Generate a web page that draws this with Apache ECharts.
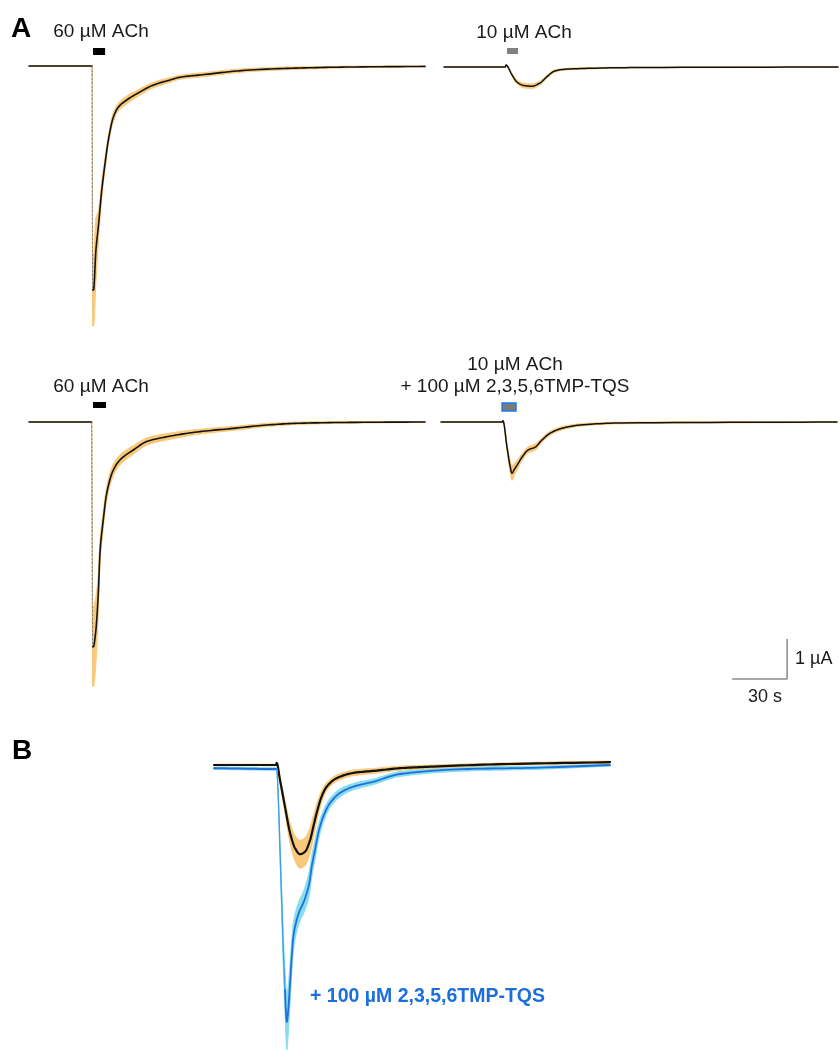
<!DOCTYPE html>
<html><head><meta charset="utf-8">
<script src="https://cdn.jsdelivr.net/npm/echarts@6/dist/echarts.min.js"></script>
<style>html,body{margin:0;padding:0;background:#fff}#c{width:839px;height:1051px}</style>
</head><body><div id="c"></div>
<script>
// ---- Panel A1: 60 µM ACh (top-left) : time (s), mean current (µA), SEM (µA)
const tA1 = [0, 34.4, 34.7, 35.2, 36.5, 37.8, 39.7, 41.5, 43.3, 46.0, 48.7, 53.3, 60.5, 67.6, 76.9, 82.4, 93.3, 120.5, 147.8, 175.1, 216];
const mA1 = [0, 0, -5.6, -5.6, -4.6, -4.03, -3.1, -2.43, -1.85, -1.28, -1.03, -0.85, -0.65, -0.48, -0.35, -0.28, -0.225, -0.10, -0.05, -0.025, -0.01];
const sA1 = [0.01, 0.01, 0.9, 0.9, 0.8, 0.4, 0.22, 0.15, 0.12, 0.11, 0.1, 0.1, 0.08, 0.07, 0.06, 0.05, 0.05, 0.04, 0.03, 0.02, 0.01];
// ---- Panel A2: 10 µM ACh (top-right)
const tA2 = [0, 33.5, 33.8, 36.9, 39.7, 43.3, 47.8, 52.4, 56.0, 60.5, 65.1, 74.2, 101.5, 215];
const mA2 = [0, 0, 0.05, -0.18, -0.37, -0.46, -0.48, -0.40, -0.25, -0.10, -0.06, -0.04, -0.015, 0];
const sA2 = [0.01, 0.01, 0.01, 0.03, 0.05, 0.06, 0.06, 0.05, 0.04, 0.03, 0.02, 0.02, 0.01, 0.01];
// ---- Panel A3: 60 µM ACh (bottom-left)
const tA3 = [0, 34.2, 34.7, 35.1, 36.4, 37.8, 38.7, 40.5, 42.4, 46.0, 49.6, 56.9, 64.2, 75.1, 93.3, 111.4, 129.7, 147.8, 175.1, 216];
const mA3 = [0, 0, -5.62, -5.62, -5.24, -4.28, -3.28, -2.45, -1.78, -1.2, -0.95, -0.7, -0.49, -0.37, -0.24, -0.16, -0.075, -0.03, -0.01, 0];
const sA3 = [0.01, 0.01, 1.0, 1.0, 0.85, 0.5, 0.3, 0.22, 0.17, 0.15, 0.13, 0.11, 0.09, 0.08, 0.06, 0.05, 0.04, 0.03, 0.02, 0.01];
// ---- Panel A4: 10 µM ACh + 100 µM 2,3,5,6TMP-TQS (bottom-right)
const tA4 = [0, 33.3, 33.8, 36.0, 37.6, 38.7, 39.8, 41.5, 44.2, 47.5, 51.3, 55.1, 59.5, 66.6, 75.8, 97.7, 216];
const mA4 = [0, 0, 0.03, -0.63, -1.08, -1.28, -1.2, -1.08, -0.88, -0.70, -0.63, -0.45, -0.28, -0.15, -0.075, -0.025, 0];
const sA4 = [0.01, 0.01, 0.01, 0.1, 0.15, 0.18, 0.16, 0.12, 0.09, 0.08, 0.08, 0.06, 0.05, 0.04, 0.03, 0.02, 0.01];
// ---- Panel B: ACh alone (black) vs + TMP-TQS (blue), overlaid
const tBk = [0, 33.8, 34.2, 36.0, 38.7, 41.5, 44.2, 46.9, 49.6, 52.4, 54.2, 56.0, 58.7, 61.5, 66.9, 75.8, 88.7, 101.5, 119.5, 156, 216];
const mBk = [0, 0, 0.05, -0.375, -1.04, -1.7, -2.08, -2.23, -2.17, -1.88, -1.54, -1.2, -0.79, -0.54, -0.33, -0.2, -0.14, -0.08, -0.04, 0.02, 0.07];
const sBk = [0.02, 0.02, 0.02, 0.08, 0.15, 0.25, 0.32, 0.35, 0.35, 0.32, 0.28, 0.22, 0.15, 0.1, 0.08, 0.07, 0.06, 0.05, 0.04, 0.03, 0.03];
const tBl = [0, 33.8, 34.2, 35.1, 36.0, 36.9, 37.8, 38.7, 39.7, 40.5, 41.5, 42.4, 43.3, 45.1, 46.9, 48.7, 50.6, 52.0, 53.3, 55.1, 56.9, 59.6, 63.3, 68.7, 76.0, 86.9, 101.5, 138, 174, 216];
const mBl = [-0.08, -0.1, -0.1, -0.875, -2.125, -3.375, -4.625, -5.625, -6.42, -6.125, -5.45, -4.79, -4.29, -3.875, -3.625, -3.45, -3.2, -2.95, -2.54, -2.125, -1.7, -1.29, -0.95, -0.7, -0.54, -0.42, -0.225, -0.1, -0.07, 0];
const sBl = [0.03, 0.03, 0.03, 0.1, 0.2, 0.3, 0.4, 0.5, 0.7, 0.6, 0.5, 0.4, 0.35, 0.3, 0.28, 0.28, 0.3, 0.3, 0.28, 0.25, 0.2, 0.15, 0.12, 0.1, 0.08, 0.07, 0.06, 0.05, 0.04, 0.03];
// ---- Drug application bars: [start s, end s]
const stimA1 = [34.9, 41.5];
const stimA2 = [34.4, 40.4];
const stimA3 = [34.9, 42.0];
const stimA4 = [33.3, 40.9];
// ---- Labels
const labA1 = '60 µM ACh';
const labA2 = '10 µM ACh';
const labA3 = '60 µM ACh';
const labA4 = ['10 µM ACh', '+ 100 µM 2,3,5,6TMP-TQS'];
const labB = '+ 100 µM 2,3,5,6TMP-TQS';
// ---- Scale bar
const scaleSec = 30;
const scaleMicroA = 1;
const scaleLab = ['30 s', '1 µA'];

const ORANGE = '#F9C97A', CYAN = '#86DDEB', BLUE = '#1F6FE0', BLACK = '#111';
const FONT = '"Liberation Sans", Arial, sans-serif';

const grids = [
  {left: 29, top: 46, width: 396, height: 300},
  {left: 444, top: 47, width: 394, height: 300},
  {left: 29, top: 402, width: 396, height: 300},
  {left: 441, top: 402, width: 396, height: 300},
  {left: 214, top: 745, width: 396, height: 300}
];
const xMax = [216, 215, 216, 216, 216];

// monotone cubic (Fritsch-Carlson) rendering of pixel points; returns samples per segment
function monoSegments(P, n) {
  const N = P.length, d = [], h = [], m = new Array(N).fill(0);
  for (let i = 0; i < N - 1; i++) {
    h.push(Math.max(P[i + 1][0] - P[i][0], 1e-6));
    d.push((P[i + 1][1] - P[i][1]) / h[i]);
  }
  m[0] = d[0]; m[N - 1] = d[N - 2];
  for (let i = 1; i < N - 1; i++) {
    if (d[i - 1] * d[i] <= 0) m[i] = 0;
    else {
      const w1 = 2 * h[i] + h[i - 1], w2 = h[i] + 2 * h[i - 1];
      m[i] = (w1 + w2) / (w1 / d[i - 1] + w2 / d[i]);
    }
  }
  const segs = [];
  for (let i = 0; i < N - 1; i++) {
    const s = [];
    for (let k = 0; k <= n; k++) {
      const u = k / n, u2 = u * u, u3 = u2 * u;
      const h00 = 2 * u3 - 3 * u2 + 1, h10 = u3 - 2 * u2 + u, h01 = -2 * u3 + 3 * u2, h11 = u3 - u2;
      const x = P[i][0] + u * h[i];
      const y = h00 * P[i][1] + h10 * h[i] * m[i] + h01 * P[i + 1][1] + h11 * h[i] * m[i + 1];
      s.push([x, y]);
    }
    segs.push(s);
  }
  return segs;
}
function flat(segs, a, b) {
  const out = [];
  for (let i = a; i < b; i++) { const s = segs[i]; for (let k = (i === a ? 0 : 1); k < s.length; k++) out.push(s[k]); }
  return out;
}
function band(g, t, m, s, color, z) {
  return {type: 'custom', xAxisIndex: g, yAxisIndex: g, data: [[t[0], m[0]]], silent: true, clip: false, z: z || 2,
    renderItem: function (params, api) {
      const up = [], dn = [];
      for (let i = 0; i < t.length; i++) {
        up.push(api.coord([t[i], m[i] + s[i]]));
        dn.push(api.coord([t[i], m[i] - s[i]]));
      }
      const U = flat(monoSegments(up, 12), 0, t.length - 1);
      const D = flat(monoSegments(dn, 12), 0, t.length - 1).reverse();
      return {type: 'polygon', shape: {points: U.concat(D)}, style: {fill: color, stroke: color, lineWidth: 1}};
    }};
}
// pieces: [fromIndex, toIndex, color, width, dash]
function trace(g, t, m, pieces, z) {
  return {type: 'custom', xAxisIndex: g, yAxisIndex: g, data: [[t[0], m[0]]], silent: true, clip: false, z: z || 3,
    renderItem: function (params, api) {
      const P = t.map((x, i) => api.coord([x, m[i]]));
      const segs = monoSegments(P, 12);
      return {type: 'group', children: pieces.map(pc => ({type: 'polyline',
        shape: {points: pc[4] ? [P[pc[0]], P[pc[1]]] : flat(segs, pc[0], pc[1])},
        style: {fill: null, stroke: pc[2], lineWidth: pc[3], lineDash: pc[4] || null, lineJoin: 'round', lineCap: 'round'}}))};
    }};
}
function stim(g, st, y0, y1, fill, stroke) {
  return {type: 'line', xAxisIndex: g, yAxisIndex: g, data: [], silent: true,
    markArea: {silent: true, itemStyle: {color: fill, borderColor: stroke || fill, borderWidth: stroke ? 1.5 : 0},
      data: [[{xAxis: st[0], yAxis: y1}, {xAxis: st[1], yAxis: y0}]]}};
}

const series = [];
// A1
series.push(band(0, tA1, mA1, sA1, ORANGE));
series.push(trace(0, tA1, mA1, [[0, 1, BLACK, 1.5], [1, 2, '#808080', 1, [2, 2]], [2, tA1.length - 1, BLACK, 1.6]]));
series.push(stim(0, stimA1, 0.275, 0.45, '#000'));
// A2
series.push(band(1, tA2, mA2, sA2, ORANGE));
series.push(trace(1, tA2, mA2, [[0, tA2.length - 1, BLACK, 1.5]]));
series.push(stim(1, stimA2, 0.325, 0.475, '#808080'));
// A3
series.push(band(2, tA3, mA3, sA3, ORANGE));
series.push(trace(2, tA3, mA3, [[0, 1, BLACK, 1.5], [1, 2, '#808080', 1, [2, 2]], [2, tA3.length - 1, BLACK, 1.6]]));
series.push(stim(2, stimA3, 0.35, 0.5, '#000'));
// A4
series.push(band(3, tA4, mA4, sA4, ORANGE));
series.push(trace(3, tA4, mA4, [[0, tA4.length - 1, BLACK, 1.5]]));
series.push(stim(3, stimA4, 0.275, 0.475, '#7a7a7a', '#1E7BEA'));
// scale bar (in A4 data units)
const sbCorner = [188.8, -6.425];
series.push({type: 'line', xAxisIndex: 3, yAxisIndex: 3, silent: true, symbol: 'none', clip: false,
  data: [[sbCorner[0] - scaleSec, sbCorner[1]], [sbCorner[0], sbCorner[1]], [sbCorner[0], sbCorner[1] + scaleMicroA]],
  lineStyle: {color: '#8a8a8a', width: 1.5}});
// B
series.push(band(4, tBl, mBl, sBl, CYAN, 2));
series.push(band(4, tBk, mBk, sBk, ORANGE, 3));
series.push(trace(4, tBk, mBk, [[0, tBk.length - 1, BLACK, 2.2]], 4));
series.push(trace(4, tBl, mBl, [[0, 2, BLUE, 2], [2, 7, '#3D9BF2', 1.3], [7, tBl.length - 1, BLUE, 1.8]], 5));

function txt(x, y, s, size, opts) {
  opts = opts || {};
  return {type: 'text', x: x, y: y, silent: true, z: 100,
    style: {text: s, fontSize: size, fontFamily: FONT, fontWeight: opts.bold ? 'bold' : 'normal',
      fill: opts.color || '#1a1a1a', align: opts.align || 'center', verticalAlign: 'middle',
      textAlign: opts.align || 'center', textVerticalAlign: 'middle',
      shadowBlur: opts.glow ? 3 : 0, shadowColor: opts.glow || 'transparent'}};
}

const option = {
  animation: false,
  backgroundColor: '#fff',
  grid: grids,
  xAxis: grids.map((g, i) => ({type: 'value', gridIndex: i, min: 0, max: xMax[i], show: false})),
  yAxis: grids.map((g, i) => ({type: 'value', gridIndex: i, min: -7, max: 0.5, show: false})),
  series: series,
  graphic: [
    txt(21, 29, 'A', 28, {bold: true, color: '#000'}),
    txt(22, 751, 'B', 28, {bold: true, color: '#000'}),
    txt(101, 32, labA1, 19),
    txt(524, 33, labA2, 19),
    txt(101, 387, labA3, 19),
    txt(515, 365, labA4[0], 19),
    txt(515, 387, labA4[1], 19),
    txt(795, 659, scaleLab[1], 18, {align: 'left'}),
    txt(765, 697, scaleLab[0], 18),
    txt(310, 997, labB, 19.5, {bold: true, color: '#1C6FDA', align: 'left', glow: 'rgba(40,120,230,0.6)'})
  ]
};
const chart = echarts.init(document.getElementById('c'));
chart.setOption(option);
</script></body></html>
